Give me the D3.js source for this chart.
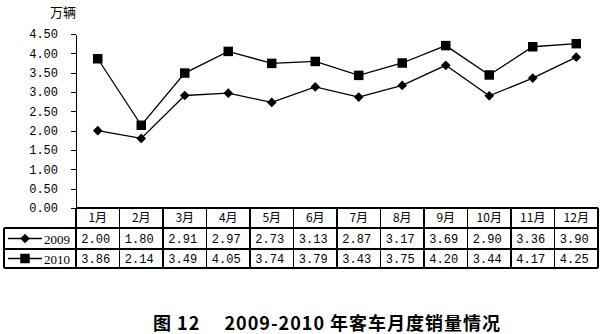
<!DOCTYPE html>
<html>
  <head>
    <meta charset="utf-8">
    <title>客车月度销量</title>
  </head>
  <style>
    body { margin: 0; background: #fff; }
    .axis path, .axis line { stroke: #000; stroke-width: 1.3px; shape-rendering: crispEdges; }
    .axis text { font: 12px "Liberation Mono", monospace; fill: #000; }
    .grid line { stroke: #000; stroke-width: 1.3px; shape-rendering: crispEdges; }
    .line { fill: none; stroke: #000; stroke-width: 1.3px; }
    .cell { font: 12px "Liberation Mono", monospace; fill: #000; }
    .hdr { font: 12px "Noto Sans CJK SC", sans-serif; fill: #000; }
  </style>
  <body>
    <div id="chart"></div>
    <script src="https://cdn.jsdelivr.net/npm/d3@7"></script>
    <script>

      // data
      var months   = ["1月","2月","3月","4月","5月","6月","7月","8月","9月","10月","11月","12月"];
      var sales09  = [2.00, 1.80, 2.91, 2.97, 2.73, 3.13, 2.87, 3.17, 3.69, 2.90, 3.36, 3.90];
      var sales10  = [3.86, 2.14, 3.49, 4.05, 3.74, 3.79, 3.43, 3.75, 4.20, 3.44, 4.17, 4.25];
      var years    = ["2009", "2010"];
      var yTicks   = [0, 0.5, 1, 1.5, 2, 2.5, 3, 3.5, 4, 4.5];

      var W = 600, H = 334;
      var plotLeft = 76, plotRight = 598, plotTop = 34, plotBase = 208;
      var rowH = [208, 228, 249, 268];   // table row edges
      var tableLeft = 4;

      var svg = d3.select("#chart").append("svg")
                  .attr("width", W).attr("height", H);

      var x = d3.scaleBand().domain(months).range([plotLeft, plotRight]).paddingInner(0);
      var y = d3.scaleLinear().domain([0, 4.5]).range([plotBase, plotTop]);

      // y axis
      svg.append("g")
          .attr("class", "axis")
          .attr("transform", "translate(" + plotLeft + ",0)")
          .call(d3.axisLeft(y).tickValues(yTicks).tickSize(5).tickSizeOuter(0).tickPadding(13).tickFormat(d3.format(".2f")));

      svg.append("text")
          .attr("x", 50).attr("y", 17)
          .style("font", "13px 'Noto Sans CJK SC', sans-serif")
          .text("万辆");

      // lines
      var series = [sales09, sales10];
      var line = d3.line()
                    .x(function(d, i) { return x(months[i]) + x.bandwidth() / 2; })
                    .y(function(d) { return y(d); });

      svg.selectAll("path.line")
          .data(series).enter()
          .append("path")
          .attr("class", "line")
          .attr("d", line);

      var diamond = d3.symbol().type(d3.symbolDiamond2).size(60);
      var square  = d3.symbol().type(d3.symbolSquare).size(90);

      svg.append("g").selectAll("path")
          .data(sales09).enter().append("path")
          .attr("d", diamond)
          .attr("transform", function(d, i) { return "translate(" + (x(months[i]) + x.bandwidth() / 2) + "," + y(d) + ")"; });

      svg.append("g").selectAll("path")
          .data(sales10).enter().append("path")
          .attr("d", square)
          .attr("transform", function(d, i) { return "translate(" + (x(months[i]) + x.bandwidth() / 2) + "," + y(d) + ")"; });

      /*
        data table
      */
      var grid = svg.append("g").attr("class", "grid");

      // horizontal lines
      grid.append("line").attr("x1", plotLeft).attr("x2", plotRight).attr("y1", rowH[0]).attr("y2", rowH[0]);
      rowH.slice(1).forEach(function(r) {
        grid.append("line").attr("x1", tableLeft).attr("x2", plotRight).attr("y1", r).attr("y2", r);
      });
      // vertical lines
      months.forEach(function(m) {
        grid.append("line").attr("x1", x(m)).attr("x2", x(m)).attr("y1", rowH[0]).attr("y2", rowH[3]);
      });
      grid.append("line").attr("x1", plotRight).attr("x2", plotRight).attr("y1", rowH[0]).attr("y2", rowH[3]);
      grid.append("line").attr("x1", tableLeft).attr("x2", tableLeft).attr("y1", rowH[1]).attr("y2", rowH[3]);

      svg.selectAll("text.hdr")
          .data(months).enter().append("text")
          .attr("class", "hdr")
          .attr("x", function(d) { return x(d) + x.bandwidth() / 2; })
          .attr("y", (rowH[0] + rowH[1]) / 2 + 4)
          .attr("text-anchor", "middle")
          .text(function(d) { return d; });

      series.forEach(function(s, k) {
        var cy = (rowH[k + 1] + rowH[k + 2]) / 2;
        svg.append("g").selectAll("text")
            .data(s).enter().append("text")
            .attr("class", "cell")
            .attr("x", function(d, i) { return x(months[i]) + x.bandwidth() / 2 - 2; })
            .attr("y", cy + 4)
            .attr("text-anchor", "middle")
            .text(function(d) { return d3.format(".2f")(d); });

        // legend key
        svg.append("line").attr("class", "line")
            .attr("x1", 8).attr("x2", 42).attr("y1", cy).attr("y2", cy);
        svg.append("path")
            .attr("d", k == 0 ? diamond : square)
            .attr("transform", "translate(25," + cy + ")");
        svg.append("text")
            .attr("x", 44).attr("y", cy + 5)
            .style("font", "13px 'Liberation Serif', serif")
            .text(years[k]);
      });

      svg.append("text")
          .attr("x", 153).attr("y", 330)
          .style("font", "bold 18px 'Noto Sans CJK SC', sans-serif")
          .style("letter-spacing", "1px")
          .text("图 12　 2009-2010 年客车月度销量情况");

    </script>
  </body>
</html>
